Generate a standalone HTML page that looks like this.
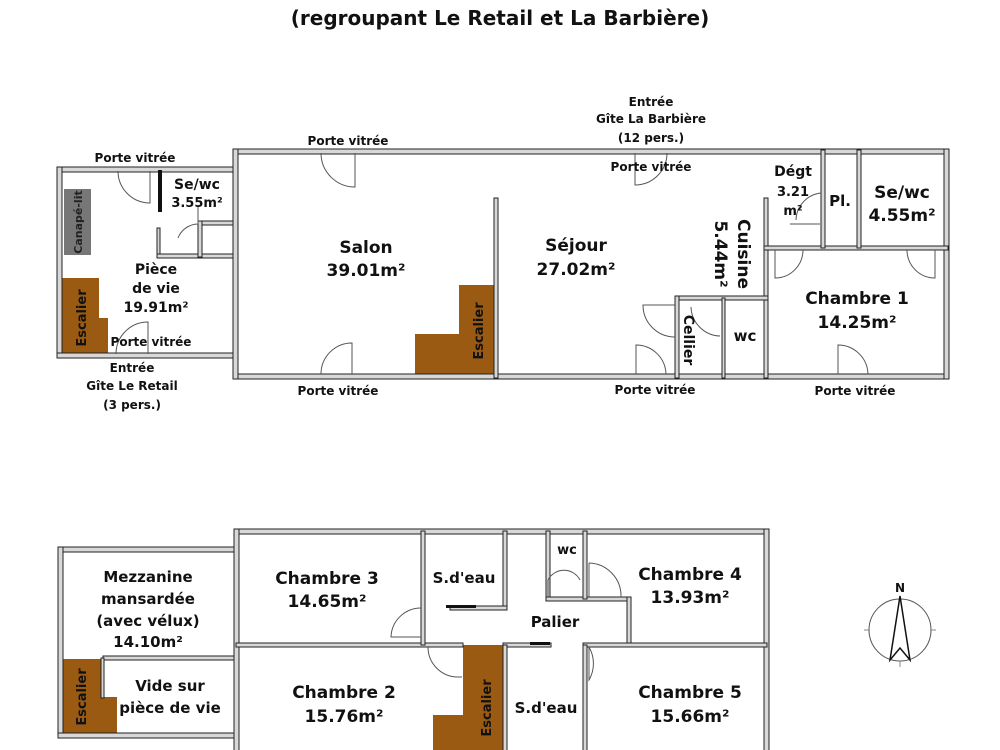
<!DOCTYPE html>
<html><head><meta charset="utf-8"><style>
html,body{margin:0;padding:0;background:#fff;width:1000px;height:750px;overflow:hidden}
svg{display:block}
text{font-family:"DejaVu Sans","Liberation Sans",sans-serif;font-weight:bold;fill:#111}
.w{fill:#d8d8d8;stroke:#222;stroke-width:1}
.d{fill:none;stroke:#555;stroke-width:1}
.s{fill:#9a5a12}
.pv{font-size:12px}
.r{font-size:17px}
.m{font-size:15px}
</style></head><body>
<svg width="1000" height="750" viewBox="0 0 1000 750" xmlns="http://www.w3.org/2000/svg">
<text x="500" y="25" text-anchor="middle" style="font-size:20px">(regroupant Le Retail et La Barbière)</text>

<!-- ===== Upper plan ===== -->
<rect x="64" y="189" width="27" height="66" fill="#777"/>
<text transform="translate(82,222) rotate(-90)" text-anchor="middle" style="font-size:11px;fill:#222">Canapé-lit</text>
<path class="s" d="M62 278 H99 V318 H108 V354 H62 Z"/>
<text transform="translate(86,318) rotate(-90)" text-anchor="middle" style="font-size:13px">Escalier</text>
<path class="s" d="M459 285 H495 V376 H415 V334 H459 Z"/>
<text transform="translate(483,331) rotate(-90)" text-anchor="middle" style="font-size:13px">Escalier</text>

<rect class="w" x="57" y="167" width="178" height="5"/>
<rect class="w" x="57" y="167" width="5" height="191"/>
<rect class="w" x="57" y="353" width="178" height="5"/>
<rect x="158" y="170" width="4" height="42" fill="#111"/>
<rect class="w" x="157" y="228" width="3" height="29"/>
<rect class="w" x="157" y="254" width="78" height="4"/>
<rect class="w" x="198" y="221" width="37" height="4"/>
<rect class="w" x="198" y="221" width="4" height="36"/>

<rect class="w" x="233" y="149" width="716" height="5"/>
<rect class="w" x="233" y="374" width="716" height="5"/>
<rect class="w" x="233" y="149" width="5" height="230"/>
<rect class="w" x="944" y="149" width="5" height="230"/>
<rect class="w" x="494" y="198" width="4" height="180"/>
<rect class="w" x="764" y="198" width="4" height="180"/>
<rect class="w" x="675" y="296" width="93" height="4"/>
<rect class="w" x="675" y="296" width="4" height="82"/>
<rect class="w" x="722" y="298" width="3" height="80"/>
<rect class="w" x="764" y="246" width="184" height="4"/>
<rect class="w" x="821" y="150" width="4" height="98"/>
<rect class="w" x="857" y="150" width="4" height="98"/>

<path class="d" d="M150 171 V203 A32 32 0 0 1 118 171"/>
<path class="d" d="M355 153 V187 A34 34 0 0 1 321 153"/>
<path class="d" d="M352 374 V343 A31 31 0 0 0 321 374"/>
<path class="d" d="M148 354 V322 A32 32 0 0 0 116 354"/>
<path class="d" d="M635 153 V185 A32 32 0 0 0 667 153"/>
<path class="d" d="M636 374 V345 A30 30 0 0 1 666 374"/>
<path class="d" d="M675 305 H643 A32 32 0 0 0 675 337"/>
<path class="d" d="M691 307 A30 30 0 0 0 720 336"/>
<path class="d" d="M775 250 V278 A28 28 0 0 0 803 250"/>
<path class="d" d="M935 250 V278 A28 28 0 0 1 907 250"/>
<path class="d" d="M838 374 V345 A30 30 0 0 1 868 374"/>
<path class="d" d="M821 193 A28 28 0 0 0 796 220"/>
<path class="d" d="M790 224 H820"/>
<path class="d" d="M178 238 A22 22 0 0 1 198 224 M198 205 V224"/>

<text class="pv" x="135" y="162" text-anchor="middle">Porte vitrée</text>
<text class="pv" x="348" y="145" text-anchor="middle">Porte vitrée</text>
<text class="pv" x="651" y="106" text-anchor="middle">Entrée</text>
<text class="pv" x="651" y="123" text-anchor="middle">Gîte La Barbière</text>
<text class="pv" x="651" y="142" text-anchor="middle">(12 pers.)</text>
<text class="pv" x="651" y="171" text-anchor="middle">Porte vitrée</text>
<text class="pv" x="151" y="346" text-anchor="middle">Porte vitrée</text>
<text class="pv" x="132" y="372" text-anchor="middle">Entrée</text>
<text class="pv" x="132" y="390" text-anchor="middle">Gîte Le Retail</text>
<text class="pv" x="132" y="409" text-anchor="middle">(3 pers.)</text>
<text class="pv" x="338" y="395" text-anchor="middle">Porte vitrée</text>
<text class="pv" x="655" y="394" text-anchor="middle">Porte vitrée</text>
<text class="pv" x="855" y="395" text-anchor="middle">Porte vitrée</text>
<text x="197" y="189" text-anchor="middle" style="font-size:14px">Se/wc</text>
<text x="197" y="207" text-anchor="middle" style="font-size:13px">3.55m²</text>
<text x="156" y="274" text-anchor="middle" style="font-size:14px">Pièce</text>
<text x="156" y="293" text-anchor="middle" style="font-size:14px">de vie</text>
<text x="156" y="312" text-anchor="middle" style="font-size:14px">19.91m²</text>
<text class="r" x="366" y="253" text-anchor="middle">Salon</text>
<text class="r" x="366" y="276" text-anchor="middle">39.01m²</text>
<text class="r" x="576" y="251" text-anchor="middle">Séjour</text>
<text class="r" x="576" y="275" text-anchor="middle">27.02m²</text>
<text transform="translate(738,254) rotate(90)" text-anchor="middle" class="r">Cuisine</text>
<text transform="translate(715,254) rotate(90)" text-anchor="middle" class="r">5.44m²</text>
<text transform="translate(684,340) rotate(90)" text-anchor="middle" style="font-size:14px">Cellier</text>
<text x="745" y="341" text-anchor="middle" class="m">wc</text>
<text x="793" y="176" text-anchor="middle" style="font-size:14px">Dégt</text>
<text x="793" y="196" text-anchor="middle" style="font-size:13px">3.21</text>
<text x="793" y="215" text-anchor="middle" style="font-size:13px">m²</text>
<text x="840" y="206" text-anchor="middle" class="m">Pl.</text>
<text x="902" y="198" text-anchor="middle" class="r">Se/wc</text>
<text x="902" y="221" text-anchor="middle" class="r">4.55m²</text>
<text x="857" y="304" text-anchor="middle" class="r">Chambre 1</text>
<text x="857" y="328" text-anchor="middle" class="r">14.25m²</text>

<!-- ===== Lower plan ===== -->
<path class="s" d="M63 659 H103 V697 H117 V735 H63 Z"/>
<text transform="translate(86,697) rotate(-90)" text-anchor="middle" style="font-size:13px">Escalier</text>
<path class="s" d="M463 645 H505 V752 H433 V715 H463 Z"/>
<text transform="translate(491,708) rotate(-90)" text-anchor="middle" style="font-size:13px">Escalier</text>

<rect class="w" x="58" y="547" width="178" height="5"/>
<rect class="w" x="58" y="547" width="5" height="191"/>
<rect class="w" x="58" y="733" width="178" height="5"/>
<rect class="w" x="103" y="656" width="132" height="4"/>
<rect class="w" x="101" y="658" width="3" height="40"/>

<rect class="w" x="234" y="529" width="535" height="5"/>
<rect class="w" x="234" y="529" width="5" height="222"/>
<rect class="w" x="764" y="529" width="5" height="222"/>
<rect class="w" x="236" y="643" width="227" height="4"/>
<rect class="w" x="421" y="531" width="4" height="114"/>
<rect class="w" x="503" y="531" width="4" height="78"/>
<rect class="w" x="450" y="606" width="57" height="4"/>
<rect x="446" y="605" width="30" height="3" fill="#111"/>
<rect class="w" x="546" y="531" width="4" height="68"/>
<rect class="w" x="546" y="597" width="84" height="4"/>
<rect class="w" x="583" y="531" width="4" height="68"/>
<rect class="w" x="627" y="597" width="4" height="50"/>
<rect class="w" x="583" y="643" width="184" height="4"/>
<rect class="w" x="503" y="643" width="48" height="4"/>
<rect x="530" y="642" width="20" height="3" fill="#111"/>
<rect class="w" x="503" y="645" width="4" height="106"/>
<rect class="w" x="583" y="645" width="4" height="106"/>

<path class="d" d="M421 608 A30 30 0 0 0 391 637 H421"/>
<path class="d" d="M428 647 A30 30 0 0 0 458 677 H462"/>
<path class="d" d="M548 597 V580 A18 18 0 0 1 580 580"/>
<path class="d" d="M589 563 A33 33 0 0 1 621 597 M589 563 V597"/>
<path class="d" d="M589 647 A33 33 0 0 1 589 680 V647"/>

<text class="m" x="148" y="582" text-anchor="middle">Mezzanine</text>
<text class="m" x="148" y="604" text-anchor="middle">mansardée</text>
<text class="m" x="148" y="626" text-anchor="middle">(avec vélux)</text>
<text class="m" x="148" y="647" text-anchor="middle">14.10m²</text>
<text class="m" x="170" y="691" text-anchor="middle">Vide sur</text>
<text class="m" x="170" y="713" text-anchor="middle">pièce de vie</text>
<text class="r" x="327" y="584" text-anchor="middle">Chambre 3</text>
<text class="r" x="327" y="607" text-anchor="middle">14.65m²</text>
<text class="m" x="464" y="583" text-anchor="middle">S.d'eau</text>
<text class="m" x="555" y="627" text-anchor="middle">Palier</text>
<text x="567" y="554" text-anchor="middle" style="font-size:13px">wc</text>
<text class="r" x="690" y="580" text-anchor="middle">Chambre 4</text>
<text class="r" x="690" y="603" text-anchor="middle">13.93m²</text>
<text class="r" x="344" y="698" text-anchor="middle">Chambre 2</text>
<text class="r" x="344" y="722" text-anchor="middle">15.76m²</text>
<text class="m" x="546" y="713" text-anchor="middle">S.d'eau</text>
<text class="r" x="690" y="698" text-anchor="middle">Chambre 5</text>
<text class="r" x="690" y="722" text-anchor="middle">15.66m²</text>

<circle cx="900" cy="630" r="31" fill="none" stroke="#555" stroke-width="1"/>
<path d="M864 630 H870 M930 630 H936 M900 661 V667" stroke="#888" fill="none"/>
<path d="M900 596 L890 660 L900 648 L910 660 Z" fill="none" stroke="#111" stroke-width="1.5"/>
<text x="900" y="592" text-anchor="middle" style="font-size:12px">N</text>
</svg>
</body></html>
